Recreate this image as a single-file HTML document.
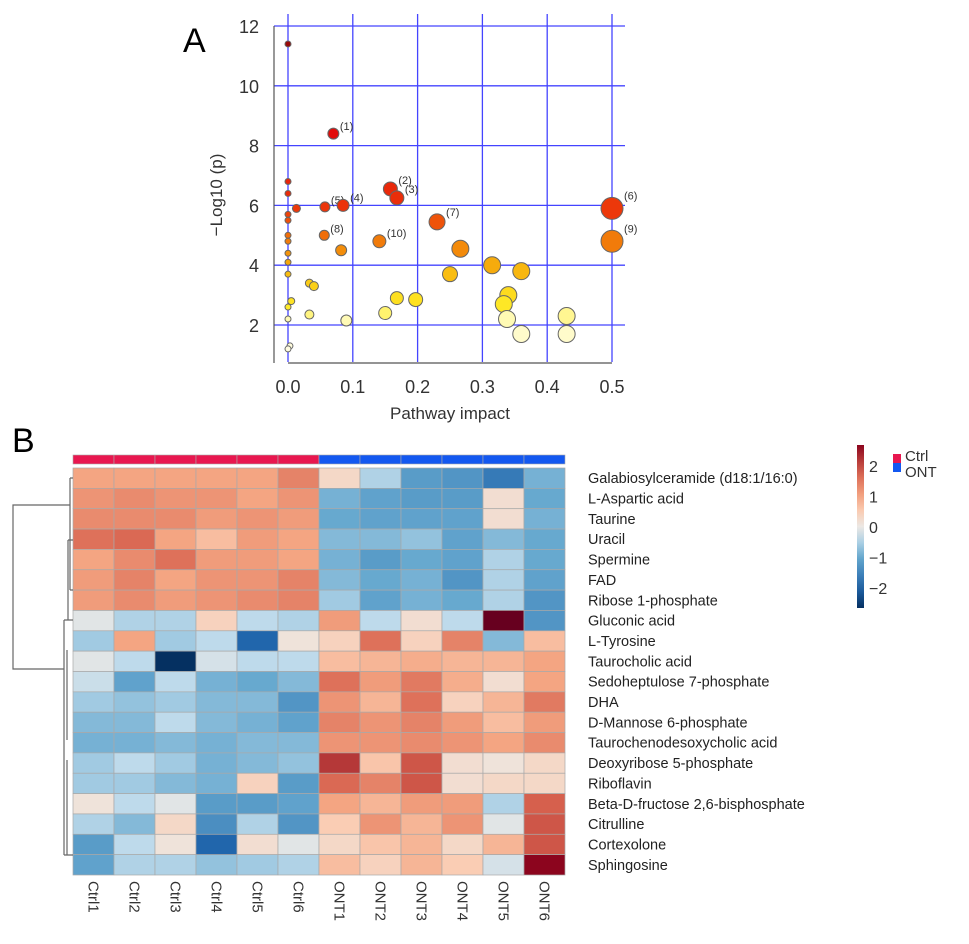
<!DOCTYPE html>
<html><head><meta charset="utf-8">
<style>
html,body{margin:0;padding:0;background:#fff;}
svg{display:block;font-family:"Liberation Sans",Arial,sans-serif;}
</style></head>
<body>
<svg id="fig" width="969" height="944" viewBox="0 0 969 944" xmlns="http://www.w3.org/2000/svg">
<g id="panelA"></g>
<g id="panelB"></g>
</svg>
<script>
// ---------- Panel A data ----------
const impactX = [0,0.07,0,0,0,0,0.013,0.057,0.085,0.158,0.168,0.23,0.5,0.5,0.056,0.082,0.141,0.266,0,0,0,0,0,0.315,0.36,0.25,0.033,0.04,0.005,0,0,0.168,0.197,0.34,0.333,0.338,0.36,0.43,0.43,0.15,0.033,0.09,0.003,0];
const logP    = [11.4,8.4,6.8,6.4,5.7,5.5,5.9,5.95,6.0,6.55,6.25,5.45,5.9,4.8,5.0,4.5,4.8,4.55,5.0,4.8,4.4,4.1,3.7,4.0,3.8,3.7,3.4,3.3,2.8,2.6,2.2,2.9,2.85,3.0,2.7,2.2,1.7,2.3,1.7,2.4,2.35,2.15,1.3,1.2];
const bubbleR = [3,5.5,3,3,3,3,4,5,6,7,7,8,11,11,5,5.5,6.5,8.5,3,3,3,3,3,8.5,8.5,7.5,4,4.5,3.5,3,3,6.5,7,8.5,8.5,8.5,8.5,8.5,8.5,6.5,4.5,5.5,3,3];
const pointLabels = ["","(1)","","","","","","(5)","(4)","(2)","(3)","(7)","(6)","(9)","(8)","","(10)","","","","","","","","","","","","","","","","","","","","","","","","","","",""];
const xTicks = [0,0.1,0.2,0.3,0.4,0.5];
const yTicks = [2,4,6,8,10,12];

// ---------- Panel B data ----------
const sampleNames = ["Ctrl1","Ctrl2","Ctrl3","Ctrl4","Ctrl5","Ctrl6","ONT1","ONT2","ONT3","ONT4","ONT5","ONT6"];
const sampleGroups = ["Ctrl","Ctrl","Ctrl","Ctrl","Ctrl","Ctrl","ONT","ONT","ONT","ONT","ONT","ONT"];
const metabolites = ["Galabiosylceramide (d18:1/16:0)","L-Aspartic acid","Taurine","Uracil","Spermine","FAD","Ribose 1-phosphate","Gluconic acid","L-Tyrosine","Taurocholic acid","Sedoheptulose 7-phosphate","DHA","D-Mannose 6-phosphate","Taurochenodesoxycholic acid","Deoxyribose 5-phosphate","Riboflavin","Beta-D-fructose 2,6-bisphosphate","Citrulline","Cortexolone","Sphingosine"];
const zValues = [
[1,1,1,1,1,1.4, 0.3,-0.5,-1.2,-1.3,-1.7,-0.9],
[1.2,1.3,1.2,1.2,1,1.2, -0.9,-1.1,-1.2,-1.2,0.2,-1.0],
[1.3,1.3,1.3,1.1,1.2,1.1, -1.0,-1.1,-1.1,-1.1,0.2,-0.9],
[1.6,1.7,1,0.7,1.1,1, -0.8,-0.8,-0.7,-1.1,-0.8,-1.0],
[1,1.3,1.6,1.1,1.1,1, -0.9,-1.2,-1.0,-1.1,-0.5,-1.0],
[1.1,1.4,1,1.2,1.2,1.4, -0.8,-1.0,-0.9,-1.3,-0.5,-1.1],
[1.1,1.3,1.1,1.2,1.3,1.4, -0.6,-1.1,-0.9,-1.0,-0.5,-1.3],
[-0.1,-0.5,-0.5,0.4,-0.4,-0.5, 1.1,-0.4,0.2,-0.4,2.8,-1.3],
[-0.6,1,-0.6,-0.4,-2.0,0.1, 0.4,1.6,0.4,1.4,-0.8,0.7],
[-0.1,-0.4,-2.9,-0.2,-0.4,-0.4, 0.7,0.8,0.9,0.8,0.8,1.0],
[-0.3,-1.1,-0.4,-0.9,-1.0,-0.8, 1.6,1.1,1.5,0.9,0.2,1.0],
[-0.6,-0.7,-0.6,-0.8,-0.8,-1.3, 1.2,0.8,1.6,0.4,0.8,1.5],
[-0.8,-0.8,-0.4,-0.8,-0.9,-1.1, 1.4,1.2,1.4,1.1,0.7,1.1],
[-0.9,-0.9,-0.8,-0.9,-0.8,-0.8, 1.2,1.2,1.3,1.2,1.0,1.3],
[-0.6,-0.4,-0.6,-0.9,-0.8,-0.7, 2.2,0.6,1.9,0.2,0.1,0.3],
[-0.6,-0.6,-0.8,-0.9,0.4,-1.2, 1.7,1.4,1.9,0.2,0.3,0.3],
[0.1,-0.4,-0.1,-1.2,-1.2,-1.1, 1.0,0.8,1.1,1.1,-0.5,1.8],
[-0.5,-0.8,0.3,-1.4,-0.5,-1.3, 0.5,1.2,0.8,1.2,-0.1,1.9],
[-1.2,-0.4,0.1,-2.0,0.2,-0.1, 0.3,0.6,0.8,0.3,0.8,1.9],
[-1.1,-0.5,-0.5,-0.7,-0.6,-0.5, 0.7,0.4,0.8,0.5,-0.2,2.7]
];
const colorbarTicks = [2,1,0,-1,-2];

const NS="http://www.w3.org/2000/svg";
function mk(tag, attrs, parent, text){
  const e=document.createElementNS(NS,tag);
  for(const k in attrs) e.setAttribute(k,attrs[k]);
  if(text!==undefined) e.textContent=text;
  parent.appendChild(e); return e;
}
// ---------- Panel A ----------
const A=document.getElementById('panelA');
const ax=v=>288+v*648;
const ay=v=>325-(v-2)*29.9;
let t=mk('text',{x:183,y:52,'font-size':34},A,'A');


mk('rect',{x:274,y:22,width:352,height:342,fill:'#fff'},A);
xTicks.forEach(v=>{
  const l=mk('line',{x1:ax(v),x2:ax(v),y1:14,y2:362,stroke:'#4444ff','stroke-width':1.3},A);
  
  
  const tx=mk('text',{x:ax(v),y:393,'font-size':18,'text-anchor':'middle',fill:'#333'},A,v.toFixed(1));
  
  
});
yTicks.forEach(v=>{
  const l=mk('line',{x1:274,x2:625,y1:ay(v),y2:ay(v),stroke:'#4444ff','stroke-width':1.3},A);
  
  
  const tx=mk('text',{x:259,y:ay(v)+7,'font-size':18,'text-anchor':'end',fill:'#333'},A,String(v));
  
  
});
mk('line',{x1:274,x2:274,y1:26,y2:363,stroke:'#555','stroke-width':1.2},A);
mk('line',{x1:288,x2:612,y1:363,y2:363,stroke:'#555','stroke-width':1.2},A);
t=mk('text',{x:0,y:0,'font-size':17,'text-anchor':'middle',fill:'#333',transform:'translate(222,195) rotate(-90)'},A,'\u2212Log10 (p)');


t=mk('text',{x:450,y:419,'font-size':17,'text-anchor':'middle',fill:'#333'},A,'Pathway impact');


function bubbleColor(y){
  const stops=[[1.2,[255,252,225]],[2.2,[255,250,180]],[2.6,[255,235,40]],[3.5,[250,200,20]],[4.2,[245,160,10]],[5,[240,110,10]],[6,[235,50,10]],[8.5,[225,10,10]],[11.5,[150,10,10]]];
  if(y<=stops[0][0]) return 'rgb('+stops[0][1]+')';
  for(let i=1;i<stops.length;i++){ if(y<=stops[i][0]){const a=stops[i-1],b=stops[i];const f=(y-a[0])/(b[0]-a[0]);return 'rgb('+a[1].map((c,k)=>Math.round(c+(b[1][k]-c)*f)).join(',')+')';}}
  return 'rgb(150,10,10)';
}
impactX.forEach((xv,i)=>{
  const c=mk('circle',{cx:ax(xv),cy:ay(logP[i]),r:bubbleR[i],fill:bubbleColor(logP[i]),stroke:'#666','stroke-width':1},A);
  
  
  if(pointLabels[i]){
    const l=mk('text',{x:ax(xv)+bubbleR[i]+1,y:ay(logP[i])-bubbleR[i]+2,'font-size':11,fill:'#333'},A,pointLabels[i]);
    
    
  }
});
// ---------- Panel B ----------
const B=document.getElementById('panelB');
t=mk('text',{x:12,y:452,'font-size':34},B,'B');


const hx0=73,cw=41,hy0=468,rh=20.35;
const stopsRB=[[-2.7,[5,48,97]],[-2,[33,102,172]],[-1,[103,169,207]],[-0.4,[190,218,235]],[0,[236,232,228]],[0.5,[250,205,180]],[1,[244,165,130]],[1.8,[214,96,77]],[2.7,[140,5,30]]];
function rb(v){
  if(v<=stopsRB[0][0]) return 'rgb('+stopsRB[0][1]+')';
  for(let i=1;i<stopsRB.length;i++){ if(v<=stopsRB[i][0]){const a=stopsRB[i-1],b=stopsRB[i];const f=(v-a[0])/(b[0]-a[0]);return 'rgb('+a[1].map((c,k)=>Math.round(c+(b[1][k]-c)*f)).join(',')+')';}}
  return 'rgb(103,0,31)';
}
sampleGroups.forEach((g,j)=>{
  const r=mk('rect',{x:hx0+j*cw,y:455,width:cw,height:9,fill:g==='Ctrl'?'#e8174f':'#1358f0',stroke:'#aaa','stroke-width':0.6},B);
  
  
});
zValues.forEach((row,i)=>{
  row.forEach((v,j)=>{
    const r=mk('rect',{x:hx0+j*cw,y:hy0+i*rh,width:cw,height:rh,fill:rb(v),stroke:'#a9a9a9','stroke-width':0.7},B);
    
    
  });
  const l=mk('text',{x:588,y:hy0+i*rh+rh/2+5,'font-size':14.5,fill:'#222'},B,metabolites[i]);
  
  
});
sampleNames.forEach((s,j)=>{
  const l=mk('text',{x:0,y:0,'font-size':15,fill:'#333',transform:'translate('+(hx0+j*cw+cw/2-5)+',881) rotate(90)'},B,s);
  
  
});
// dendrogram
const dg=mk('g',{stroke:'#666','stroke-width':1.2,fill:'none'},B);


mk('path',{d:'M70,505 H13 V669 H64'},dg);
mk('path',{d:'M70,478 V590 M70,478 H73 M70,590 H73 M68,540 V620 M68,540 H73 M64,620 V855 M64,620 H73 M64,855 H73 M67,650 V740 M67,760 V855'},dg);
// colorbar
const defs=mk('defs',{},B);
const grad=mk('linearGradient',{id:'cbg',x1:0,y1:1,x2:0,y2:0},defs);
for(let k=0;k<=10;k++){const v=-2.7+k*0.54; mk('stop',{offset:(k*10)+'%','stop-color':rb(v)},grad);}
const cb=mk('rect',{x:857,y:445,width:7,height:163,fill:'url(#cbg)'},B);


const cby=v=>527-v*30.5;
colorbarTicks.forEach(v=>{
  const l=mk('text',{x:869,y:cby(v)+6,'font-size':16,fill:'#333'},B,v<0?'\u2212'+Math.abs(v):String(v));
  
  
});
let lg=mk('rect',{x:893,y:454,width:8,height:9,fill:'#e8174f'},B);


lg=mk('rect',{x:893,y:463,width:8,height:9,fill:'#1358f0'},B);


lg=mk('text',{x:905,y:461,'font-size':15,fill:'#333'},B,'Ctrl');


lg=mk('text',{x:905,y:477,'font-size':15,fill:'#333'},B,'ONT');


</script>
</body></html>
